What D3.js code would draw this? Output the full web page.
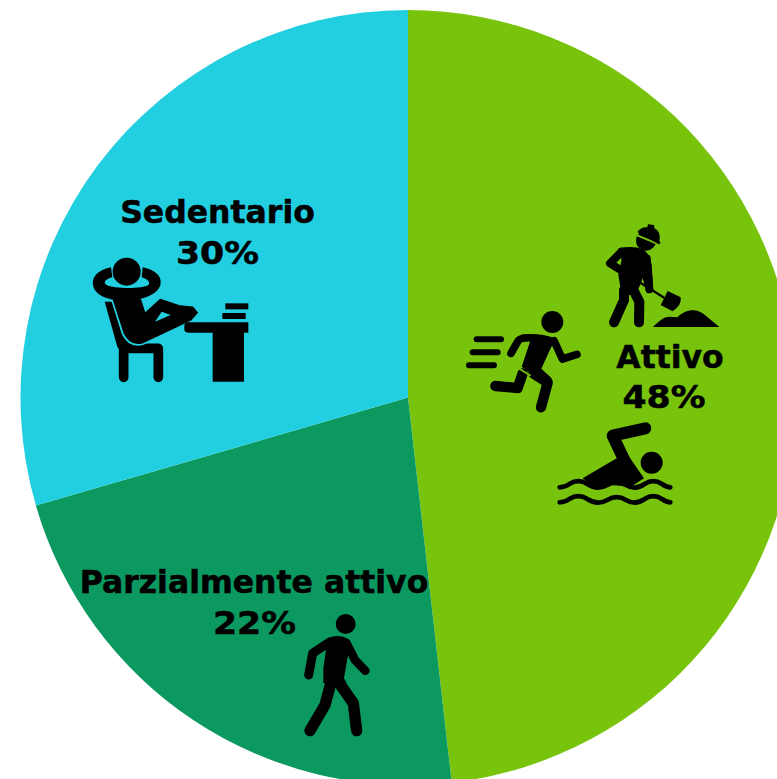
<!DOCTYPE html>
<html><head><meta charset="utf-8">
<script src="https://cdnjs.cloudflare.com/ajax/libs/d3/7.8.5/d3.min.js"></script>
<style>html,body{margin:0;padding:0;background:#fff;overflow:hidden}svg{display:block}</style>
</head><body><svg id="c" width="777" height="779"></svg>
<script>
const categories = ["Attivo","Parzialmente attivo","Sedentario"];
const values = [48.2,22.3,29.5];
const percentLabels = ["48%","22%","30%"];
const colors = ["#78c40d","#0b9960","#22cfe0"];
const labelPositions = [
  [[670,368],[664,408]],
  [[254,593],[254.5,634]],
  [[217.5,223],[217.5,264]]
];
const svg = d3.select("#c");
const pieG = svg.append("g").attr("transform","translate(408,397.5)");
const pie = d3.pie().sort(null).value(d=>d);
const arc = d3.arc().innerRadius(0).outerRadius(387.5);
pieG.selectAll("path").data(pie(values)).join("path")
  .attr("d",arc).attr("fill",(d,i)=>colors[i]);
function icon(ox,oy){return svg.append("g").attr("transform",`translate(${ox},${oy}) scale(${1/3})`);}
function line(g,d,w){g.append("path").attr("d",d).attr("fill","none").attr("stroke","#000").attr("stroke-width",w).attr("stroke-linecap","round").attr("stroke-linejoin","round");}
function fill(g,d,c){g.append("path").attr("d",d).attr("fill",c||"#000");}
function disc(g,x,y,r){g.append("circle").attr("cx",x).attr("cy",y).attr("r",r).attr("fill","#000");}

// Runner
let g = icon(450,210);
disc(g,307,336,33);
line(g,"M80,388H153",18);line(g,"M68,427H143",18);line(g,"M57,466H132",18);
fill(g,"M210,375 Q260,365 318,385 L302,415 L274,476 L305,505 L292,525 L215,470 L240,395 Z");
line(g,"M232,384 Q208,384 203,395 L183,430",23);
line(g,"M312,392 L337,447 L381,433",23);
line(g,"M218,490 L203,534 L136,528",31);
line(g,"M250,490 L293,518 L273,592",31);
g.append("path").attr("d","M204,474 L242,497").attr("stroke","#78c40d").attr("stroke-width",5).attr("fill","none");

// Worker
g = icon(450,210);
disc(g,588,92,30);
fill(g,"M552,60 L640,100 L640,30 L590,20 Z","#78c40d");
g.append("path").attr("d","M556,74 L634,106").attr("stroke","#78c40d").attr("stroke-width",6);
fill(g,"M562,66 C570,55 580,50 592,52 L594,43 L612,45 L613,54 C628,62 632,80 628,92 L632,99 L626,103 Z");
fill(g,"M505,115 Q550,105 578,118 Q600,130 605,165 L610,240 L590,245 L578,205 L568,230 L555,255 L515,255 L505,195 L515,150 Z");
line(g,"M515,125 L480,160 L520,185",24);
line(g,"M590,145 L598,238",24);
line(g,"M522,240 L522,270 L492,337",30);
line(g,"M550,240 L568,275 L567,337",30);
line(g,"M495,170 L640,262",7);
fill(g,"M653,243 L692,262 Q696,285 668,304 L632,285 Z");
fill(g,"M609,351 C625,335 640,320 660,320 L682,322 C705,298 740,292 765,315 L808,351 Z");

// Swimmer
g = icon(450,210);
disc(g,605,758,33);
line(g,"M586,655 L488,677 L532,770",36);
fill(g,"M398,805 L495,748 L530,730 L582,805 L540,832 Q500,825 470,825 Q440,835 420,822 Z");
line(g,"M329,832 Q345,832 358,822 Q385,805 412,822 Q442,842 472,825 Q500,808 528,825 Q556,842 584,822 Q610,805 636,822 Q650,832 661,832",14);
line(g,"M329,877 Q345,877 358,867 Q385,850 412,867 Q442,887 472,870 Q500,853 528,870 Q556,887 584,867 Q610,850 636,867 Q650,877 661,877",14);

// Sedentary
g = icon(80,190);
line(g,"M131,480 L131,562 M235,480 L235,562 M131,475 H235",29);
fill(g,"M74,335 L96,335 L125,430 Q140,468 185,470 L185,480 L125,490 L112,470 Z");
g.append("path").attr("d","M92,318 L185,325 L197,362 L240,323 L300,343 L340,347 L358,368 L335,394 L190,462 Q150,475 128,430 Z").attr("fill","#000").attr("stroke","#22cfe0").attr("stroke-width",5);
fill(g,"M225,395 L245,365 L272,375 Z","#22cfe0");
disc(g,140,245,42);
fill(g,"M93,232 C50,240 35,265 39,285 C45,320 90,332 140,332 C190,332 240,310 242,280 C245,255 220,238 188,232 L185,262 C205,268 212,278 205,285 C190,297 100,297 80,285 C68,278 75,268 97,262 Z");
fill(g,"M313,408 Q313,397 325,397 H505 V428 H492 V575 H398 V428 H325 Q313,428 313,418 Z");
fill(g,"M436,340H505V358H436Z");
fill(g,"M427,369H497V387H427Z");

// Walker
g = icon(280,600);
disc(g,197,72,30);
fill(g,"M145,115 Q175,100 207,118 L203,170 L192,235 L200,250 L130,250 L130,205 L138,150 Z");
line(g,"M150,125 L98,160 L86,225",27);
line(g,"M200,130 L225,180 L256,212",26);
line(g,"M155,240 L135,315 L90,392",34);
line(g,"M175,245 L220,310 L230,392",34);

// Labels
const labels = svg.append("g").attr("font-family","'DejaVu Sans'").attr("font-weight","bold").attr("font-size",31.5).attr("text-anchor","middle").attr("fill","#000").attr("stroke","#000").attr("stroke-width",0.5);
categories.forEach((c,i)=>{
  labels.append("text").attr("x",labelPositions[i][0][0]).attr("y",labelPositions[i][0][1]).text(c);
  labels.append("text").attr("x",labelPositions[i][1][0]).attr("y",labelPositions[i][1][1])
    .attr("textLength",83).attr("lengthAdjust","spacingAndGlyphs").text(percentLabels[i]);
});
</script></body></html>
